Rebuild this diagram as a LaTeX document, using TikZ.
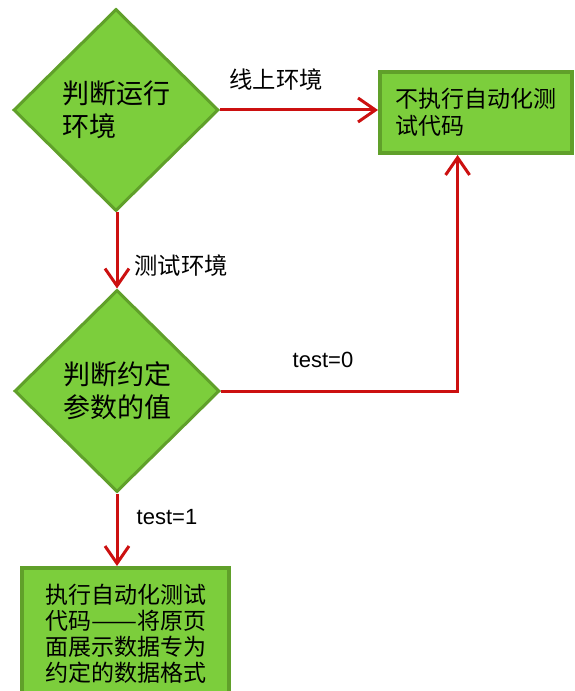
\documentclass[tikz,border=0pt]{standalone}
\usepackage{fontspec}
\setmainfont{Liberation Sans}
\newfontfamily\cjk{Noto Sans CJK SC}
\usetikzlibrary{shapes.geometric,arrows.meta,calc}
\definecolor{flowgreen}{RGB}{124,206,60}
\definecolor{flowborder}{RGB}{96,160,42}
\definecolor{flowred}{RGB}{204,16,16}
\tikzset{
  decision/.style={diamond, draw=flowborder, fill=flowgreen, line width=2.25pt,
    inner sep=0pt, minimum width=153.75pt, minimum height=151.5pt, align=left,
    font=\cjk\fontsize{20.25pt}{24.75pt}\selectfont},
  actbox/.style={rectangle, draw=flowborder, fill=flowgreen, line width=3pt,
    inner sep=0pt, align=left},
  conn/.style={draw=flowred, line width=2.25pt,
    -{Straight Barb[length=13pt,width=18pt,line width=2.25pt]}},
  cjklabel/.style={font=\cjk\fontsize{17.5pt}{20pt}\selectfont, inner sep=0pt},
  latlabel/.style={font=\fontsize{16.5pt}{19pt}\selectfont, inner sep=0pt}
}
\begin{document}
\begin{tikzpicture}[x=0.75pt,y=-0.75pt]
\useasboundingbox (0,0) rectangle (574,691);
\node[decision] (d1) at (116,110) {判断运行\\环境};
\node[decision] (d2) at (117,391) {判断约定\\参数的值};
\node[actbox, minimum width=144pt, minimum height=60.75pt,
  font=\cjk\fontsize{17.25pt}{19.9pt}\selectfont] (b1) at (476,112.5)
  {不执行自动化测\\试代码};
\node[actbox, minimum width=155.25pt, minimum height=99pt,
  font=\cjk\fontsize{17.25pt}{19.5pt}\selectfont] (b3) at (125.5,634)
  {执行自动化测试\\代码\resizebox{2em}{\height}{——}将原页\\面展示数据专为\\约定的数据格式};
\coordinate (up) at ($(b1.south west)!0.406!(b1.south east)$);
\draw[conn] (d1.east) -- (d1.east -| b1.west);
\draw[conn] (d1.south -| d2.north) -- (d2.north);
\draw[conn] (d2.south) -- (d2.south |- b3.north);
\draw[conn] (d2.east) -| (up);
\node[cjklabel] (l1) at (276,80) {线上环境};
\node[cjklabel] (l2) at (181,266) {测试环境};
\node[latlabel] (l3) at (323,360) {test=0};
\node[latlabel] (l4) at (167,517) {test=1};
\end{tikzpicture}
\end{document}
